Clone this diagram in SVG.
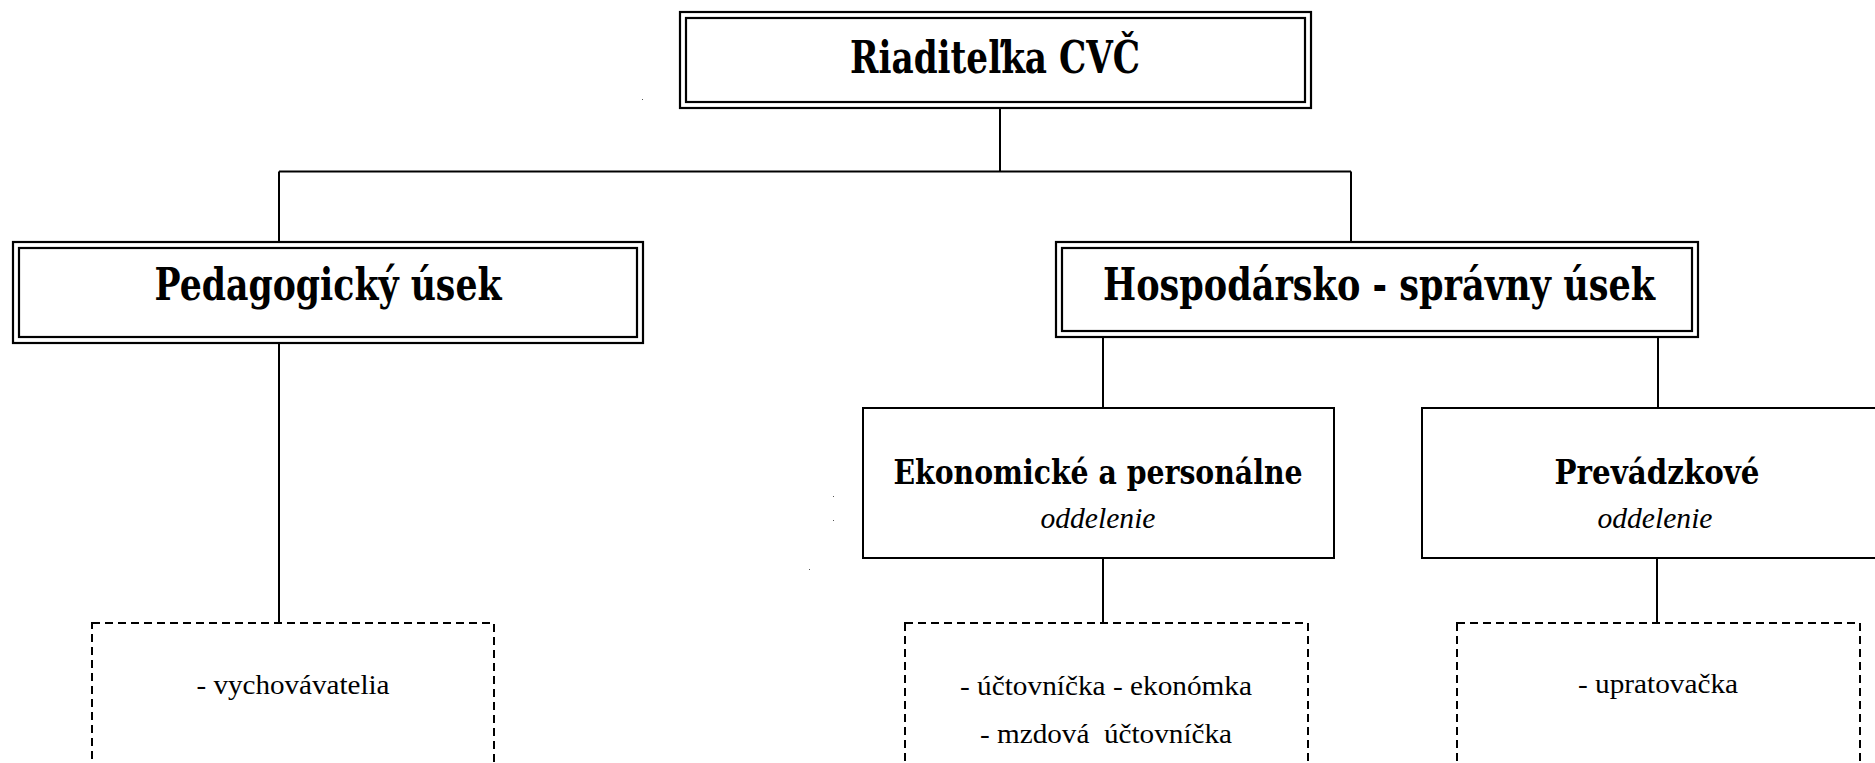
<svg xmlns="http://www.w3.org/2000/svg" width="1875" height="763" viewBox="0 0 1875 763">
<style>
.bg{fill:#fff}
.dbl{fill:none;stroke:#000;stroke-width:2.2}
.box{fill:#fff;stroke:#000;stroke-width:2}
.dash{fill:none;stroke:#000;stroke-width:2;stroke-dasharray:8 5}
.conn{fill:none;stroke:#000;stroke-width:2}
.h1{font-family:"DejaVu Serif","Liberation Serif",serif;font-weight:bold;font-size:44px;fill:#000}
.h2{font-family:"DejaVu Serif","Liberation Serif",serif;font-weight:bold;font-size:34px;fill:#000}
.it{font-family:"Liberation Serif",serif;font-style:italic;font-size:29px;fill:#000}
.tx{font-family:"Liberation Serif",serif;font-size:28px;fill:#000}
.speck{fill:#555}
</style>
<rect class="bg" x="0" y="0" width="1875" height="763"/>
<g id="connectors">
<path class="conn" d="M1000 108 V171.5 M279 171.5 H1351 M279 171.5 V242 M1351 171.5 V242"/>
<path class="conn" d="M279 343 V623"/>
<path class="conn" d="M1103 337 V408 M1658 337 V408"/>
<path class="conn" d="M1103 558 V623 M1657 558 V623"/>
</g>
<g id="riaditelka">
<rect class="dbl" x="680" y="12" width="631" height="96"/>
<rect class="dbl" x="686" y="18" width="619" height="84"/>
<text class="h1" x="995" y="73" text-anchor="middle" textLength="290" lengthAdjust="spacingAndGlyphs">Riaditeľka CVČ</text>
</g>
<g id="pedagogicky">
<rect class="dbl" x="13" y="242" width="630" height="101"/>
<rect class="dbl" x="19" y="248" width="618" height="89"/>
<text class="h1" x="328" y="300" text-anchor="middle" textLength="347" lengthAdjust="spacingAndGlyphs">Pedagogický úsek</text>
</g>
<g id="hospodarsko">
<rect class="dbl" x="1056" y="242" width="642" height="95"/>
<rect class="dbl" x="1062" y="248" width="630" height="83"/>
<text class="h1" x="1379" y="300" text-anchor="middle" textLength="552" lengthAdjust="spacingAndGlyphs">Hospodársko - správny úsek</text>
</g>
<g id="ekonomicke">
<rect class="box" x="863" y="408" width="471" height="150"/>
<text class="h2" x="1098" y="484" text-anchor="middle" textLength="409" lengthAdjust="spacingAndGlyphs">Ekonomické a personálne</text>
<text class="it" x="1098" y="528" text-anchor="middle" textLength="115" lengthAdjust="spacingAndGlyphs">oddelenie</text>
</g>
<g id="prevadzkove">
<rect class="box" x="1422" y="408" width="480" height="150"/>
<text class="h2" x="1657" y="484" text-anchor="middle" textLength="205" lengthAdjust="spacingAndGlyphs">Prevádzkové</text>
<text class="it" x="1655" y="528" text-anchor="middle" textLength="115" lengthAdjust="spacingAndGlyphs">oddelenie</text>
</g>
<g id="vychovavatelia">
<rect class="dash" x="92" y="623" width="402" height="160"/>
<text class="tx" x="293" y="694" text-anchor="middle" textLength="193" lengthAdjust="spacingAndGlyphs">- vychovávatelia</text>
</g>
<g id="uctovnicky">
<rect class="dash" x="905" y="623" width="403" height="160"/>
<text class="tx" x="1106" y="695" text-anchor="middle" textLength="292" lengthAdjust="spacingAndGlyphs">- účtovníčka - ekonómka</text>
<text class="tx" x="1106" y="743" text-anchor="middle" textLength="252" lengthAdjust="spacingAndGlyphs" xml:space="preserve">- mzdová  účtovníčka</text>
</g>
<g id="upratovacka">
<rect class="dash" x="1457" y="623" width="403" height="160"/>
<text class="tx" x="1658" y="693" text-anchor="middle" textLength="160" lengthAdjust="spacingAndGlyphs">- upratovačka</text>
</g>
<g id="specks">
<rect class="speck" x="642" y="99" width="1" height="1"/>
<rect class="speck" x="833" y="496" width="1" height="1"/>
<rect class="speck" x="833" y="520" width="1" height="1"/>
<rect class="speck" x="809" y="569" width="1" height="1"/>
</g>
</svg>
